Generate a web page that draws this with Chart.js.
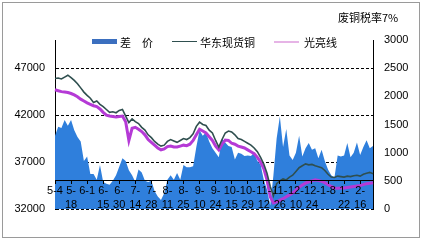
<!DOCTYPE html>
<html>
<head>
<meta charset="utf-8">
<script src="https://cdn.jsdelivr.net/npm/chart.js@4/dist/chart.umd.min.js"></script>
<style>
  html, body { margin: 0; padding: 0; background: #fff; }
  #wrap { position: relative; width: 422px; height: 241px; overflow: hidden; }
  #frame { position: absolute; left: 2px; top: 2px; width: 416px; height: 234px; border: 1px solid #9a9a9a; }
  canvas { position: absolute; left: 0; top: 0; }
  .txt { position: absolute; font-family: "Noto Sans CJK SC", sans-serif; font-size: 11px; line-height: 12px; color: #000; white-space: nowrap; }
  .sw { position: absolute; }
</style>
</head>
<body>
<div id="wrap">
  <div id="frame"></div>
  <canvas id="chart" width="422" height="241"></canvas>
  <div class="txt" style="left:338px;top:11px">废铜税率7%</div>
  <div class="sw" style="left:92px;top:39px;width:25px;height:5px;background:#3b6fbf"></div>
  <div class="txt" style="left:120px;top:36px">差　价</div>
  <div class="sw" style="left:172px;top:41px;width:25px;height:1px;background:#2f4f4f"></div>
  <div class="txt" style="left:200px;top:36px">华东现货铜</div>
  <div class="sw" style="left:274px;top:41px;width:25px;height:2px;background:#e6b4e6"></div>
  <div class="txt" style="left:304px;top:36px">光亮线</div>
</div>
<script>
// tick labels on the date axis, one every 5 points
const tickLabels = ['5-4', '5-18', '6-1', '6-15', '6-30', '7-14', '7-28', '8-11', '8-25', '9-10',
  '9-24', '10-15', '10-29', '11-12', '11-26', '12-10', '12-24', '1-8', '1-22', '2-16'];

// axis ticks
const leftTicks = [32000, 37000, 42000, 47000];
const rightTicks = [0, 500, 1000, 1500, 2000, 2500, 3000];

// 华东现货铜 (left axis)
const copper = [
  45900, 45950, 45850, 46050, 46250, 46000, 45700, 45350, 44900, 44450,
  44100, 43800, 43350, 43500, 43150, 42900, 42600, 42300, 42350, 42250,
  42500, 42600, 41900, 41200, 41600, 41300, 41100, 40700, 40400, 39900,
  39600, 39200, 38900, 38700, 38800, 39200, 39400, 39250, 39100, 39300,
  39500, 39400, 39600, 40000, 40800, 41250, 41000, 40900, 40400, 40100,
  39300, 38600, 39400, 40100, 40300, 40200, 39900, 39500, 39400, 39200,
  39000, 38800, 38500, 38100, 37500, 36800, 35800, 34400, 33400, 34700,
  35000, 35200, 35100, 35400, 35600, 36000, 36400, 36600, 36800, 36700,
  36750, 36600, 36500, 36400, 36100, 35700, 35400, 35350, 35500, 35450,
  35400, 35500, 35450, 35550, 35600, 35500, 35700, 35800, 35900, 35750
];

// 光亮线 (left axis)
const bright = [
  44700, 44600, 44500, 44450, 44400, 44300, 44150, 43950, 43700, 43500,
  43300, 43150, 43000, 42900, 42650, 42300, 42000, 41900, 41850, 41800,
  41850, 41900, 41300, 39300, 40600, 40700, 40500, 40250, 39900, 39400,
  39100, 38800, 38500, 38300, 38400, 38650, 38700, 38600, 38600, 38700,
  38800, 38750, 38900, 39300, 39900, 40500, 40300, 40100, 39700, 39300,
  38700, 38300, 38900, 39350, 39300, 39000, 38900, 38700, 38600, 38500,
  38300, 38100, 37900, 37500, 37000, 36300, 35100, 33300, 32650, 32750,
  32950, 33100, 33300, 33500, 33700, 34000, 34300, 34550, 34750, 34900,
  35000, 35100, 35050, 34950, 34800, 34600, 34400, 34250, 34200, 34250,
  34250, 34300, 34350, 34400, 34450, 34500, 34600, 34700, 34750, 34800
];

// 差价 (right axis)
const spread = [
  1300, 1460, 1440, 1580, 1480, 1580, 1400, 1280, 1200, 850,
  930, 620, 620, 520, 780, 480, 450, 430, 500, 600,
  750, 900, 850, 690, 600, 480, 700, 650, 500, 480,
  500, 320, 220, 160, 280, 520, 600, 520, 640, 520,
  780, 740, 740, 760, 1100, 1400, 1300, 1360, 1200, 1080,
  1000, 920, 1250, 1180, 1120, 1100, 880, 1000, 980, 940,
  950, 940, 1000, 850, 790, 520, 340, 60, 600, 1250,
  1640, 1100, 1420, 950, 870, 1000, 1300, 930, 1080, 1170,
  1050, 1080, 900, 1050, 850, 700, 600, 560, 950, 930,
  950, 1170, 920, 1000, 1180, 960, 1100, 1220, 1080, 1120
];

// category for every point, label only every 5th; long labels wrap after the dash
const categories = copper.map((v, i) => {
  if (i % 5 !== 0) return '';
  const t = tickLabels[i / 5];
  if (t.length <= 3) return t;
  const k = t.indexOf('-') + 1;
  return [t.slice(0, k), t.slice(k)];
});

const numFont = { family: '"Liberation Sans", Arial, sans-serif', size: 11 };
const plain = (v) => String(v);

new Chart(document.getElementById('chart'), {
  type: 'line',
  data: {
    labels: categories,
    datasets: [
      {
        label: '华东现货铜',
        data: copper,
        yAxisID: 'y',
        borderColor: '#2f4f4f',
        borderWidth: 1.6,
        pointRadius: 0,
        fill: false,
        order: 1
      },
      {
        label: '光亮线',
        data: bright,
        yAxisID: 'y',
        borderColor: '#b53ad6',
        borderWidth: 3,
        pointRadius: 0,
        fill: false,
        order: 2
      },
      {
        label: '差价',
        data: spread,
        yAxisID: 'y1',
        backgroundColor: '#2f7fdc',
        borderWidth: 0,
        pointRadius: 0,
        fill: 'origin',
        order: 3
      }
    ]
  },
  options: {
    responsive: false,
    animation: false,
    layout: { padding: { top: 40, bottom: 32, left: 0, right: 0 } },
    plugins: { legend: { display: false }, tooltip: { enabled: false } },
    scales: {
      x: {
        type: 'category',
        position: { y: 35000 },
        offset: false,
        grid: {
          z: 1,
          drawOnChartArea: false,
          drawTicks: true,
          tickLength: 3,
          tickColor: (c) => (c.index % 5 === 0 ? '#000' : 'rgba(0,0,0,0)')
        },
        border: { z: 1, display: true, color: '#000', width: 1 },
        ticks: {
          z: 1,
          autoSkip: false,
          maxRotation: 0,
          minRotation: 0,
          padding: 1,
          color: '#000',
          font: { ...numFont, lineHeight: 1.2 }
        }
      },
      y: {
        position: 'left',
        min: 32000,
        max: 50000,
        afterBuildTicks: (s) => { s.ticks = leftTicks.map((v) => ({ value: v })); },
        afterFit: (s) => { s.width = 55; },
        grid: { color: '#000', lineWidth: 1, drawTicks: false },
        border: { display: true, color: '#000', dash: [3, 2] },
        ticks: { padding: 10, color: '#000', font: numFont, callback: plain }
      },
      y1: {
        position: 'right',
        min: 0,
        max: 3000,
        afterBuildTicks: (s) => { s.ticks = rightTicks.map((v) => ({ value: v })); },
        afterFit: (s) => { s.width = 49; },
        grid: { drawOnChartArea: false, drawTicks: false },
        border: { display: true, color: '#000' },
        ticks: { padding: 11, color: '#000', font: numFont, callback: plain }
      }
    }
  }
});
</script>
</body>
</html>
